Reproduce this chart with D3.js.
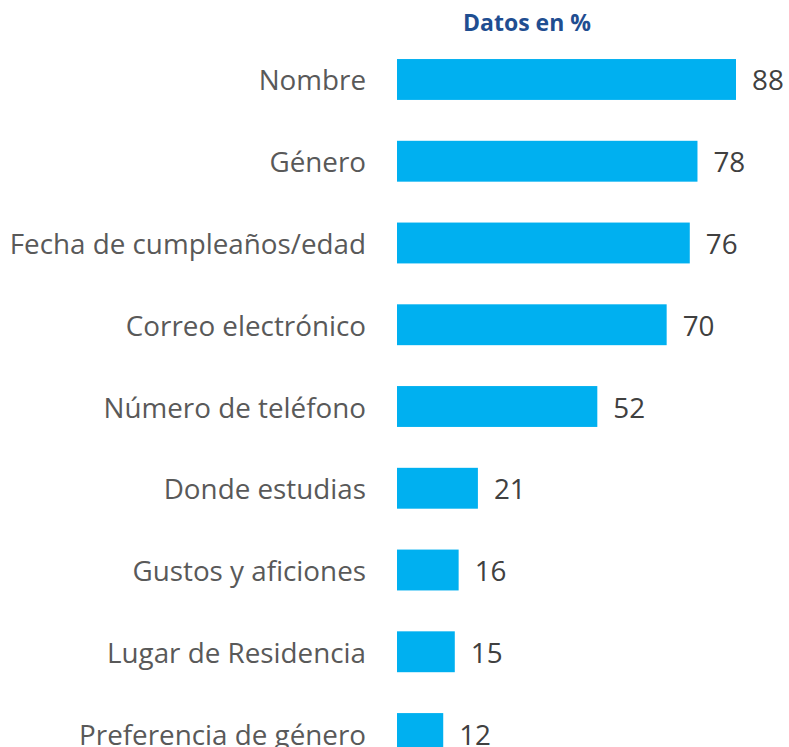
<!DOCTYPE html>
<html>
<head>
<meta charset="utf-8">
<script src="https://cdn.jsdelivr.net/npm/d3@7"></script>
<style>
  body { margin: 0; background: #fff; }
  svg { display: block; }
</style>
</head>
<body>
<svg id="chart" width="789" height="747"></svg>
<script>
let categories = [
  "Nombre",
  "Género",
  "Fecha de cumpleaños/edad",
  "Correo electrónico",
  "Número de teléfono",
  "Donde estudias",
  "Gustos y aficiones",
  "Lugar de Residencia",
  "Preferencia de género"
]
let values = [88, 78, 76, 70, 52, 21, 16, 15, 12]
let title = "Datos en %"

let svg = d3.select("#chart")
let font = "'Open Sans', sans-serif"
let fontSize = "27.8px"

let x = d3.scaleLinear()
  .domain([0, 88])
  .range([397, 736])

let y = d3.scaleBand()
  .domain(categories)
  .range([38.6, 774.4])
  .paddingInner(0.5)
  .paddingOuter(0.25)

// title
svg.append("text")
  .attr("x", 527)
  .attr("y", 31)
  .attr("text-anchor", "middle")
  .style("font-family", font)
  .style("font-size", "23px")
  .style("font-weight", "bold")
  .style("fill", "#1F4E91")
  .text(title)

let rows = svg.selectAll("g.row")
  .data(categories)
  .join("g")
  .attr("class", "row")

rows.append("rect")
  .attr("x", x(0))
  .attr("y", d => y(d))
  .attr("width", (d, i) => x(values[i]) - x(0))
  .attr("height", y.bandwidth())
  .style("fill", "#00B0F0")

rows.append("text")
  .attr("x", 366)
  .attr("y", d => y(d) + y.bandwidth() / 2 + 11)
  .attr("text-anchor", "end")
  .style("font-family", font)
  .style("font-size", fontSize)
  .style("fill", "#595959")
  .text(d => d)

rows.append("text")
  .attr("x", (d, i) => x(values[i]) + 16)
  .attr("y", d => y(d) + y.bandwidth() / 2 + 11)
  .style("font-family", font)
  .style("font-size", fontSize)
  .style("fill", "#404040")
  .text((d, i) => values[i])
</script>
</body>
</html>
